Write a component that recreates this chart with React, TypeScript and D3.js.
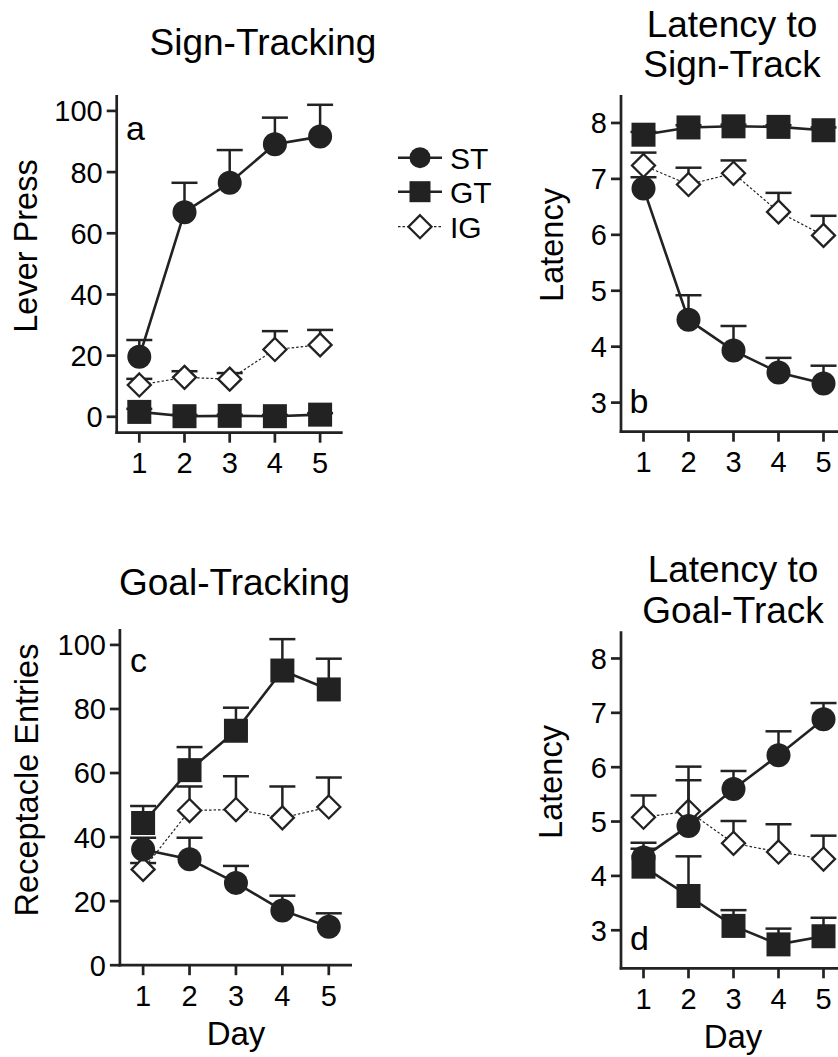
import React from "react";
import * as d3 from "d3";

const days = [1, 2, 3, 4, 5];
const groups = ["ST", "GT", "IG"];

// a: lever press (mean, SEM)
const leverST = [19.6, 66.9, 76.5, 89.1, 91.6];
const leverSTErr = [5.5, 9.6, 10.7, 8.7, 10.4];
const leverGT = [1.6, 0.2, 0.3, 0.2, 0.7];
const leverGTErr = [1.0, 0.4, 0.4, 0.4, 0.5];
const leverIG = [10.4, 12.9, 12.3, 22.0, 23.5];
const leverIGErr = [2.0, 2.0, 2.0, 6.0, 4.9];

// b: latency to sign-track
const latSignST = [6.83, 4.48, 3.93, 3.54, 3.34];
const latSignSTErr = [0.2, 0.44, 0.44, 0.26, 0.32];
const latSignGT = [7.79, 7.92, 7.94, 7.93, 7.87];
const latSignGTErr = [0.05, 0.04, 0.03, 0.03, 0.05];
const latSignIG = [7.24, 6.9, 7.1, 6.41, 5.99];
const latSignIGErr = [0.23, 0.3, 0.23, 0.34, 0.35];

// c: receptacle entries
const goalST = [36.1, 33.1, 25.7, 17.1, 12.0];
const goalSTErr = [3.7, 6.7, 5.3, 4.6, 4.2];
const goalGT = [44.4, 60.9, 73.2, 92.0, 86.1];
const goalGTErr = [5.3, 7.2, 7.2, 9.8, 9.6];
const goalIG = [29.9, 48.3, 48.6, 46.0, 49.4];
const goalIGErr = [2.0, 7.5, 10.4, 9.8, 9.2];

// d: latency to goal-track
const latGoalST = [4.34, 4.92, 5.6, 6.22, 6.88];
const latGoalSTErr = [0.27, 0.84, 0.33, 0.44, 0.3];
const latGoalGT = [4.17, 3.63, 3.08, 2.74, 2.89];
const latGoalGTErr = [0.33, 0.73, 0.29, 0.29, 0.34];
const latGoalIG = [5.08, 5.19, 4.6, 4.44, 4.31];
const latGoalIGErr = [0.4, 0.82, 0.41, 0.51, 0.43];

const countTicks = [0, 20, 40, 60, 80, 100];
const latencyTicks = [3, 4, 5, 6, 7, 8];

const FONT = "'Liberation Sans', Arial, Helvetica, sans-serif";
const INK = "#222";

function Marker({ kind, x, y, r = 12 }) {
  if (kind === "ST") return <circle cx={x} cy={y} r={r} fill={INK} />;
  if (kind === "GT") return <rect x={x - r} y={y - r} width={r * 2} height={r * 2} fill={INK} />;
  const h = r - 0.5;
  return (
    <path
      d={`M${x},${y - h}L${x + h},${y}L${x},${y + h}L${x - h},${y}Z`}
      fill="white"
      stroke={INK}
      strokeWidth={2.3}
    />
  );
}

function Panel({ cfg }) {
  const x = d3.scaleLinear().domain([0.5, 5.5]).range([cfg.left, cfg.right]);
  const y = d3.scaleLinear().domain(cfg.yDomain).range([cfg.bottom, cfg.top]);
  const line = d3.line().x((d, i) => x(days[i])).y(d => y(d));

  // draw IG first, then ST, then GT on top
  const order = ["IG", "ST", "GT"];
  return (
    <g fontFamily={FONT}>
      {cfg.title.map((t, i) => (
        <text key={i} x={cfg.titleX} y={cfg.titleY[i]} textAnchor="middle" fontSize={37}>{t}</text>
      ))}
      <text
        transform={`translate(${cfg.ylabX},${cfg.ylabY})rotate(-90)`}
        textAnchor="middle"
        fontSize={32.5}
      >{cfg.ylabel}</text>
      {cfg.dayLabel && (
        <text x={cfg.dayX} y={cfg.dayY} textAnchor="middle" fontSize={33}>Day</text>
      )}
      <text x={cfg.letterX} y={cfg.letterY} fontSize={34}>{cfg.letter}</text>

      {/* axes */}
      <line x1={cfg.left} x2={cfg.left} y1={cfg.top} y2={cfg.bottom + 1.3} stroke={INK} strokeWidth={2.7} />
      <line x1={cfg.left - 1.3} x2={cfg.right} y1={cfg.bottom} y2={cfg.bottom} stroke={INK} strokeWidth={2.7} />
      {cfg.ticks.map(t => (
        <g key={t}>
          <line x1={cfg.left - 10} x2={cfg.left} y1={y(t)} y2={y(t)} stroke={INK} strokeWidth={2.7} />
          <text x={cfg.left - 14} y={y(t)} dy="0.36em" textAnchor="end" fontSize={29}>{t}</text>
        </g>
      ))}
      {days.map(d => (
        <g key={d}>
          <line x1={x(d)} x2={x(d)} y1={cfg.bottom} y2={cfg.bottom + 10} stroke={INK} strokeWidth={2.7} />
          <text x={x(d)} y={cfg.bottom + 40.5} textAnchor="middle" fontSize={29}>{d}</text>
        </g>
      ))}

      {order.map(g => {
        const s = cfg.series[g];
        return (
          <g key={g}>
            {s.mean.map((m, i) => (
              <g key={i} stroke={INK} strokeWidth={2.5}>
                <line x1={x(days[i])} x2={x(days[i])} y1={y(m)} y2={y(m + s.err[i])} />
                <line x1={x(days[i]) - 13} x2={x(days[i]) + 13} y1={y(m + s.err[i])} y2={y(m + s.err[i])} />
              </g>
            ))}
            <path
              d={line(s.mean)}
              fill="none"
              stroke={INK}
              strokeWidth={g === "IG" ? 1.2 : 2.6}
              strokeDasharray={g === "IG" ? "2.5,2" : null}
            />
            {s.mean.map((m, i) => (
              <Marker key={i} kind={g} x={x(days[i])} y={y(m)} />
            ))}
          </g>
        );
      })}
    </g>
  );
}

const panels = [
  {
    left: 116.7, right: 342.7, top: 95, bottom: 432.7, yDomain: [-5.2, 105.2], ticks: countTicks,
    title: ["Sign-Tracking"], titleX: 263, titleY: [55],
    ylabel: "Lever Press", ylabX: 37, ylabY: 246,
    letter: "a", letterX: 126, letterY: 140, dayLabel: false,
    series: {
      ST: { mean: leverST, err: leverSTErr },
      GT: { mean: leverGT, err: leverGTErr },
      IG: { mean: leverIG, err: leverIGErr },
    },
  },
  {
    left: 621, right: 846, top: 95, bottom: 431.7, yDomain: [2.48, 8.5], ticks: latencyTicks,
    title: ["Latency to", "Sign-Track"], titleX: 732, titleY: [36.7, 76.7],
    ylabel: "Latency", ylabX: 563, ylabY: 245,
    letter: "b", letterX: 629.5, letterY: 413.3, dayLabel: false,
    series: {
      ST: { mean: latSignST, err: latSignSTErr },
      GT: { mean: latSignGT, err: latSignGTErr },
      IG: { mean: latSignIG, err: latSignIGErr },
    },
  },
  {
    left: 119.9, right: 352, top: 628.9, bottom: 965.2, yDomain: [0, 105], ticks: countTicks,
    title: ["Goal-Tracking"], titleX: 234.5, titleY: [595],
    ylabel: "Receptacle Entries", ylabX: 37.7, ylabY: 780,
    letter: "c", letterX: 130, letterY: 672, dayLabel: true, dayX: 236, dayY: 1045,
    series: {
      ST: { mean: goalST, err: goalSTErr },
      GT: { mean: goalGT, err: goalGTErr },
      IG: { mean: goalIG, err: goalIGErr },
    },
  },
  {
    left: 621, right: 846, top: 631.3, bottom: 968.3, yDomain: [2.3, 8.5], ticks: latencyTicks,
    title: ["Latency to", "Goal-Track"], titleX: 733, titleY: [581.6, 622.7],
    ylabel: "Latency", ylabX: 562, ylabY: 782,
    letter: "d", letterX: 630, letterY: 950, dayLabel: true, dayX: 733, dayY: 1048,
    series: {
      ST: { mean: latGoalST, err: latGoalSTErr },
      GT: { mean: latGoalGT, err: latGoalGTErr },
      IG: { mean: latGoalIG, err: latGoalIGErr },
    },
  },
];

function Legend() {
  const ys = [157.7, 191.7, 226.7];
  return (
    <g fontFamily={FONT}>
      {groups.map((g, i) => (
        <g key={g}>
          <line
            x1={398} x2={442} y1={ys[i]} y2={ys[i]}
            stroke={INK}
            strokeWidth={g === "IG" ? 1.2 : 2.6}
            strokeDasharray={g === "IG" ? "2.5,2" : null}
          />
          <Marker kind={g} x={420} y={ys[i]} r={g === "IG" ? 12 : 10.5} />
          <text x={450} y={ys[i]} dy="0.36em" fontSize={30}>{g}</text>
        </g>
      ))}
    </g>
  );
}

export default function App() {
  return (
    <svg
      width={838}
      height={1057}
      style={{ position: "absolute", left: 0, top: 0, background: "white" }}
    >
      {panels.map((p, i) => <Panel key={i} cfg={p} />)}
      <Legend />
    </svg>
  );
}
